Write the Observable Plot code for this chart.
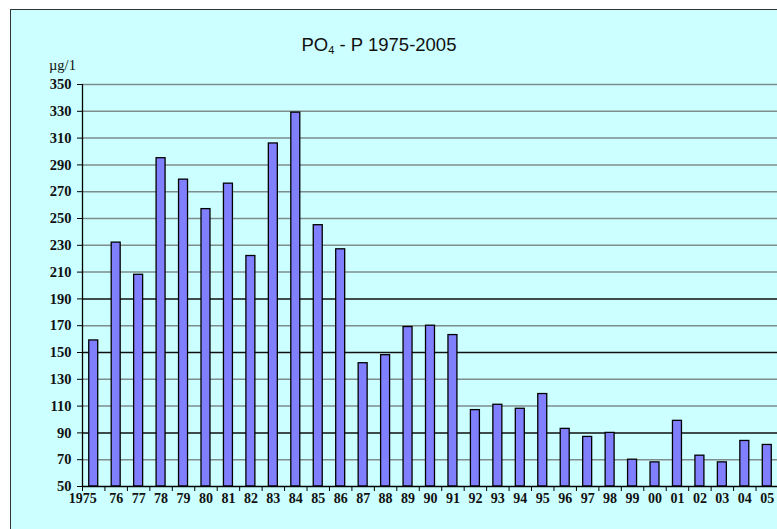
<!DOCTYPE html>
<html><head><meta charset="utf-8">
<script src="https://cdn.jsdelivr.net/npm/d3@7"></script>
<script src="https://cdn.jsdelivr.net/npm/@observablehq/plot@0.6"></script>
<style>
html,body{margin:0;padding:0;overflow:hidden;background:#fff;width:777px;height:529px;}
#frame{position:absolute;left:10px;top:9px;width:800px;height:560px;background:#ccffff;border:1px solid #333;box-sizing:border-box;}
#title{position:absolute;left:0;width:758px;top:34px;text-align:center;font-family:"Liberation Sans",Arial,sans-serif;font-size:18.5px;color:#111;}
#title sub{font-size:11px;vertical-align:-3px;}
#unit{position:absolute;left:49px;top:57px;font-family:"Liberation Serif","Times New Roman",serif;font-size:14.5px;color:#111;}
#chart{position:absolute;left:0;top:0;width:800px;}
#chart svg{max-width:none !important;}
</style></head>
<body>
<div id="frame"></div>
<div id="chart"></div>
<div id="title">PO<sub>4</sub> - P 1975-2005</div>
<div id="unit">µg/1</div>
<script>
const years = ["1975","76","77","78","79","80","81","82","83","84","85","86","87","88","89","90","91","92","93","94","95","96","97","98","99","00","01","02","03","04","05"];
const values = [159,232,208,295,279,257,276,222,306,329,245,227,142,148,169,170,163,107,111,108,119,93,87,90,70,68,99,73,68,84,81];
const yTicks = [50,70,90,110,130,150,170,190,210,230,250,270,290,310,330,350];
const darkGrid = [90,150,190];

const data = years.map((y, i) => ({year: y, value: values[i]}));
const W = 790, mL = 82, mR = 12;
const step = (W - mL - mR) / years.length;
const serif = "'Liberation Serif','Times New Roman',serif";

const chart = Plot.plot({
  width: W, height: 529,
  marginLeft: mL, marginRight: mR, marginTop: 84, marginBottom: 43,
  style: {background: "transparent", overflow: "visible", maxWidth: "none"},
  x: {domain: years, paddingInner: 0.6, paddingOuter: 0.3, round: false, axis: null, label: null},
  y: {domain: [50, 350], axis: null, label: null},
  marks: [
    Plot.ruleY(yTicks.filter(d => d > 50), {
      stroke: d => darkGrid.includes(d) ? "#111" : "#7f8c8c",
      strokeWidth: 1.5
    }),
    Plot.barY(data, {x: "year", y1: 50, y2: "value", fill: "#8080ff", stroke: "#000", strokeWidth: 1.3}),
    Plot.ruleY([50], {stroke: "#000", strokeWidth: 1.3}),
    Plot.ruleX([years[0]], {y1: 50, y2: 350, dx: -step / 2, stroke: "#000", strokeWidth: 1.3}),
    Plot.axisY({ticks: yTicks, label: null, tickSize: 5, tickPadding: 6, fontFamily: serif, fontWeight: "bold", fontSize: 14.5, stroke: "#000", fill: "#111"}),
    Plot.axisX({label: null, tickSize: 5, text: null, dx: -step / 2, stroke: "#000"}),
    Plot.axisX({ticks: years.slice(1), label: null, tickSize: 0, tickPadding: 7, fontFamily: serif, fontWeight: "bold", fontSize: 14, fill: "#111"}),
    Plot.axisX({ticks: years.slice(0, 1), label: null, tickSize: 0, tickPadding: 7, dx: -11, fontFamily: serif, fontWeight: "bold", fontSize: 14, fill: "#111"})
  ]
});
document.getElementById("chart").append(chart);
</script>
</body></html>
